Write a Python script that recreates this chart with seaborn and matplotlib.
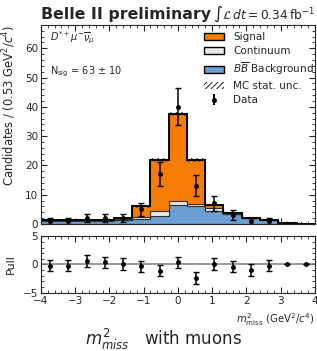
import numpy as np
import pandas as pd
import seaborn as sns
import matplotlib.pyplot as plt
from matplotlib.patches import Patch
from matplotlib.ticker import AutoMinorLocator

# binning: 15 bins over m2_miss in [-4, 4]
edges = np.linspace(-4, 4, 16)
centers = 0.5 * (edges[:-1] + edges[1:])

# stacked MC components (candidates per bin)
bb_bkg = [1.0, 1.0, 1.0, 1.1, 1.5, 1.7, 2.8, 6.6, 6.0, 4.4, 3.3, 1.9, 1.3, 0.3, 0.1]
continuum = [0.2, 0.2, 0.2, 0.2, 0.3, 0.7, 1.7, 1.1, 0.7, 0.9, 0.2, 0.1, 0.1, 0.0, 0.0]
signal = [0.1, 0.1, 0.1, 0.2, 0.2, 3.7, 17.4, 30.0, 15.2, 1.2, 0.2, 0.1, 0.1, 0.0, 0.0]
mc_unc = [0.3, 0.3, 0.3, 0.3, 0.3, 0.5, 0.6, 0.7, 0.6, 0.4, 0.3, 0.3, 0.3, 0.1, 0.1]

# data points
data_y = [1, 1, 2, 2, 2, 5, 17, 40, 13, 7, 3, 1, 1, 0, 0]
data_err = [1.0, 1.0, 1.4, 1.4, 1.4, 2.2, 4.1, 6.3, 3.6, 2.6, 1.7, 1.0, 1.0, 0, 0]

# pulls
pull = [-0.2, -0.2, 0.6, 0.4, 0.1, -0.3, -1.1, 0.4, -2.4, 0.1, -0.4, -1.0, -0.2, 0.0, 0.0]
pull_err = [1, 1, 1, 1, 1, 1, 1, 1, 1, 1, 1, 1, 1, 0, 0]

components = ['Signal', 'Continuum', r'$B\overline{B}$ Background']
colors = ['#f57c00', '#e8e8e8', '#6c9fd2']

rows = []
for name, vals in zip(components, [signal, continuum, bb_bkg]):
    for c, v in zip(centers, vals):
        rows.append({'x': c, 'w': v, 'comp': name})
df = pd.DataFrame(rows)

sns.set_style('ticks')
plt.rcParams['font.family'] = ['DejaVu Sans']
plt.rcParams['hatch.linewidth'] = 0.6

fig = plt.figure(figsize=(3.17, 3.51), dpi=100)
ax = fig.add_axes([0.129, 0.362, 0.864, 0.567])
axp = fig.add_axes([0.129, 0.166, 0.864, 0.161])

sns.histplot(data=df, x='x', weights='w', hue='comp', hue_order=components,
             palette=colors, bins=list(edges), multiple='stack', element='step',
             alpha=1, edgecolor='#333333', linewidth=0.8, legend=False, ax=ax)

total = np.array(signal) + np.array(continuum) + np.array(bb_bkg)
unc = np.array(mc_unc)
ax.bar(centers, 2 * unc, bottom=total - unc, width=np.diff(edges),
       fill=False, hatch='//////', edgecolor='#222222', linewidth=0)
ax.stairs(total, edges, color='black', linewidth=1.4)

ax.errorbar(centers[:13], data_y[:13], yerr=data_err[:13], fmt='o', color='black',
            markersize=2.5, elinewidth=1.1, capsize=2)

ax.set_xlim(-4, 4)
ax.set_ylim(0, 68)
ax.set_xlabel('')
ax.set_xticklabels([])
ax.set_ylabel(r'Candidates / (0.53 GeV$^2$/$c^4$)', fontsize=8.3, loc='top')

ax.text(0.035, 0.935, r'$D^{*+}\mu^{-}\overline{\nu}_{\mu}$', transform=ax.transAxes,
        fontsize=7, va='center')
ax.text(0.035, 0.765, r'N$_{\rm sig}$ = 63 $\pm$ 10', transform=ax.transAxes,
        fontsize=7, va='center')

handles = [Patch(facecolor=c, edgecolor='black', label=n) for n, c in zip(components, colors)]
handles.append(Patch(facecolor='none', edgecolor='black', hatch='//////', linewidth=0,
                     label='MC stat. unc.'))
handles.append(ax.errorbar([], [], yerr=[], fmt='o', color='black', markersize=2.5,
                           capsize=2, label='Data'))
ax.legend(handles=handles, loc='upper right', bbox_to_anchor=(1.012, 0.985),
          frameon=False, fontsize=7.5, handlelength=1.9, handletextpad=0.85,
          labelspacing=0.4, borderaxespad=0)

axp.axhline(0, color='#888888', linewidth=1.2)
axp.errorbar(centers, pull, yerr=pull_err, fmt='o', color='black', markersize=2.5,
             elinewidth=1.1, capsize=2)
axp.set_xlim(-4, 4)
axp.set_ylim(-5, 5)
axp.set_ylabel('Pull', fontsize=8)
axp.set_xlabel(r'$m^2_{\rm miss}$ (GeV$^2$/$c^4$)', fontsize=7.3, loc='right')

for a in (ax, axp):
    a.xaxis.set_minor_locator(AutoMinorLocator())
    a.yaxis.set_minor_locator(AutoMinorLocator())
    a.tick_params(which='both', direction='in', top=True, right=True, labelsize=7.5,
                  pad=2)
    a.tick_params(which='major', length=4)
    a.tick_params(which='minor', length=2)
axp.set_yticks([-5, 0, 5])
ax.yaxis.set_label_coords(-0.085, 1.0)
axp.yaxis.set_label_coords(-0.09, 0.5)

fig.text(0.129, 0.96, 'Belle II preliminary', fontsize=11.3, fontweight='bold', va='center')
fig.text(0.995, 0.96, r'$\int\mathcal{L}\,dt = 0.34\,\mathrm{fb}^{-1}$', fontsize=8.8,
         va='center', ha='right')
fig.text(0.517, 0.016, r'$m^2_{miss}$   with muons', fontsize=12, ha='center',
         va='baseline')

plt.savefig('out.png', dpi=100)
